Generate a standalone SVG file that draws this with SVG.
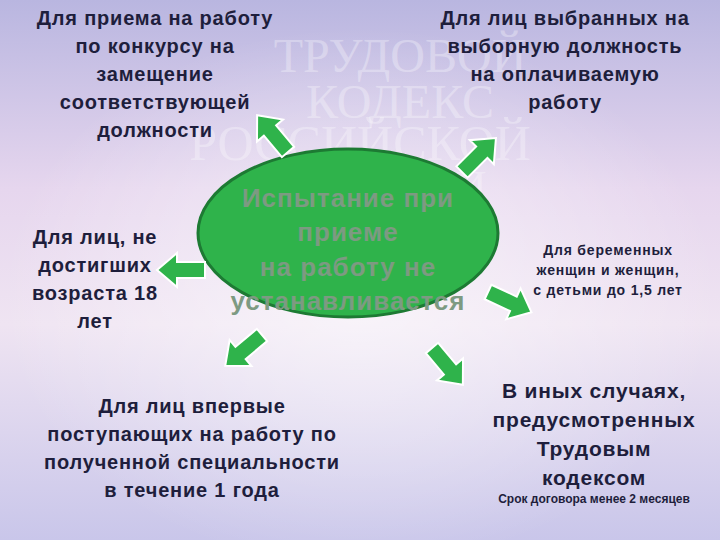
<svg xmlns="http://www.w3.org/2000/svg" xmlns:xlink="http://www.w3.org/1999/xlink" width="720" height="540" viewBox="0 0 720 540">
<defs>
<linearGradient id="bg" x1="0" y1="0" x2="0" y2="1">
<stop offset="0" stop-color="#b9b6e0"/><stop offset="0.35" stop-color="#e6d6ee"/><stop offset="0.6" stop-color="#efe4f2"/><stop offset="1" stop-color="#c9c6ea"/>
</linearGradient>
<radialGradient id="glow" cx="0.5" cy="0.55" r="0.5"><stop offset="0" stop-color="#ffffff" stop-opacity="0.6"/><stop offset="1" stop-color="#ffffff" stop-opacity="0"/></radialGradient>
<path id="arr" d="M0,-8 L28,-8 L28,-17 L48,0 L28,17 L28,8 L0,8 Z"/>
<style>
.t{font-family:"Liberation Sans",Arial,sans-serif;font-weight:bold;fill:#1e1e3c;text-anchor:middle;letter-spacing:0.8px}
.wm{font-family:"Liberation Serif",serif;fill:#ffffff;opacity:0.3;text-anchor:middle}
.a{fill:#2fb34b;stroke:#ffffff;stroke-width:2}
</style>
</defs>
<rect width="720" height="540" fill="url(#bg)"/>
<rect width="720" height="540" fill="url(#glow)"/>
<g id="watermark">
<text class="wm" x="400" y="72" font-size="48">ТРУДОВОЙ</text>
<text class="wm" x="400" y="118" font-size="48">КОДЕКС</text>
<text class="wm" x="360" y="160" font-size="50">РОССИЙСКОЙ</text>
<text class="wm" x="360" y="200" font-size="42">ФЕДЕРАЦИИ</text>
</g>
<g id="center">
<ellipse cx="348" cy="233" rx="150" ry="84" fill="#2fb34b" stroke="#1d7a33" stroke-width="3"/>
<g class="t" font-size="26" style="fill:#7d9a82;letter-spacing:1px">
<text x="348" y="207">Испытание при</text>
<text x="348" y="241">приеме</text>
<text x="348" y="276">на работу не</text>
<text x="348" y="310">устанавливается</text>
</g>
</g>
<g id="connectors">
<use href="#arr" class="a" transform="translate(288,152) rotate(-130)"/>
<use href="#arr" class="a" transform="translate(462,172) rotate(-45)"/>
<use href="#arr" class="a" transform="translate(205,270) rotate(180)"/>
<use href="#arr" class="a" transform="translate(488,292) rotate(25)"/>
<use href="#arr" class="a" transform="translate(262,335) rotate(140)"/>
<use href="#arr" class="a" transform="translate(432,348) rotate(50)"/>
</g>
<g id="n1" class="t" font-size="20">
<text x="155" y="25">Для приема на работу</text>
<text x="155" y="53">по конкурсу на</text>
<text x="155" y="81">замещение</text>
<text x="155" y="109">соответствующей</text>
<text x="155" y="137">должности</text>
</g>
<g id="n2" class="t" font-size="20">
<text x="565" y="25">Для лиц выбранных на</text>
<text x="565" y="53">выборную должность</text>
<text x="565" y="81">на оплачиваемую</text>
<text x="565" y="109">работу</text>
</g>
<g id="n3" class="t" font-size="20">
<text x="95" y="244">Для лиц, не</text>
<text x="95" y="272">достигших</text>
<text x="95" y="300">возраста 18</text>
<text x="95" y="328">лет</text>
</g>
<g id="n4" class="t" font-size="14">
<text x="608" y="255">Для беременных</text>
<text x="608" y="275">женщин  и женщин,</text>
<text x="608" y="295">с детьми до 1,5 лет</text>
</g>
<g id="n5" class="t" font-size="20">
<text x="192" y="413">Для лиц впервые</text>
<text x="192" y="441">поступающих на работу по</text>
<text x="192" y="469">полученной специальности</text>
<text x="192" y="497">в течение 1 года</text>
</g>
<g id="n6" class="t">
<text x="594" y="398" font-size="21">В иных случаях,</text>
<text x="594" y="427" font-size="21">предусмотренных</text>
<text x="594" y="456" font-size="21">Трудовым</text>
<text x="594" y="485" font-size="21">кодексом</text>
<text x="594" y="503" font-size="12" style="letter-spacing:0">Срок договора менее 2 месяцев</text>
</g>
</svg>
